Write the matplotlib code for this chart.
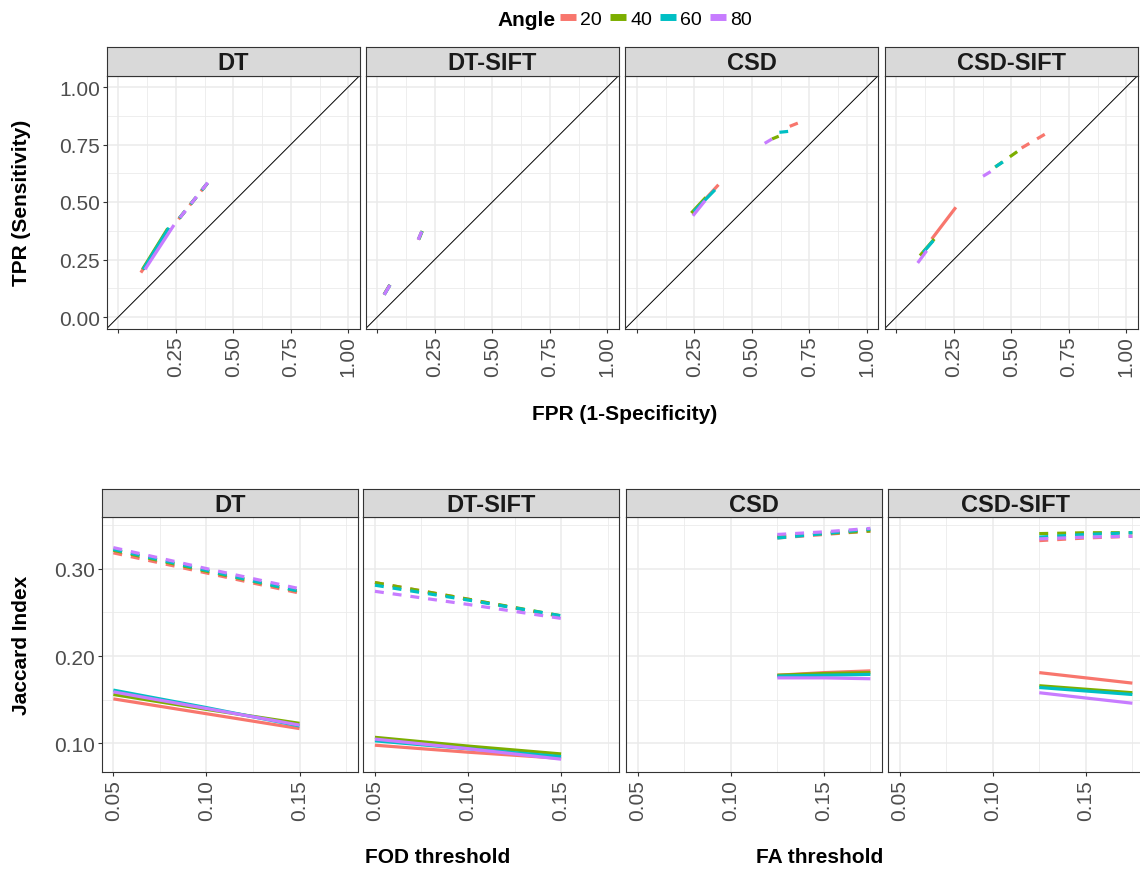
import numpy as np
import matplotlib.pyplot as plt
from matplotlib.lines import Line2D

plt.rcParams['font.family'] = ['Liberation Sans', 'DejaVu Sans']

angles = [20, 40, 60, 80]
colors = ['#F8766D', '#7CAE00', '#00BFC4', '#C77CFF']
methods = ['DT', 'DT-SIFT', 'CSD', 'CSD-SIFT']

# ---- ROC data (FPR, TPR), one row per angle ----
dt_solid_fpr = [[0.098, 0.200], [0.105, 0.215], [0.108, 0.220], [0.116, 0.242]]
dt_solid_tpr = [[0.193, 0.345], [0.207, 0.385], [0.207, 0.388], [0.207, 0.400]]
dt_dash_fpr = [[0.262, 0.390], [0.266, 0.400], [0.266, 0.398], [0.268, 0.400]]
dt_dash_tpr = [[0.425, 0.585], [0.430, 0.597], [0.430, 0.595], [0.432, 0.598]]

dts_solid_fpr = [[0.029, 0.054], [0.030, 0.055], [0.030, 0.055], [0.030, 0.055]]
dts_solid_tpr = [[0.097, 0.139], [0.098, 0.140], [0.097, 0.139], [0.097, 0.139]]
dts_dash_fpr = [[0.178, 0.195], [0.181, 0.197], [0.179, 0.196], [0.178, 0.195]]
dts_dash_tpr = [[0.336, 0.376], [0.338, 0.378], [0.337, 0.377], [0.336, 0.376]]

csd_solid_fpr = [[0.245, 0.355], [0.237, 0.300], [0.247, 0.340], [0.244, 0.297]]
csd_solid_tpr = [[0.455, 0.575], [0.452, 0.520], [0.458, 0.553], [0.440, 0.506]]
csd_dash_fpr = [[0.665, 0.700], [0.588, 0.617], [0.620, 0.658], [0.556, 0.588]]
csd_dash_tpr = [[0.829, 0.843], [0.774, 0.786], [0.803, 0.807], [0.755, 0.774]]

csds_solid_fpr = [[0.154, 0.259], [0.103, 0.165], [0.117, 0.161], [0.093, 0.132]]
csds_solid_tpr = [[0.339, 0.477], [0.267, 0.339], [0.281, 0.332], [0.235, 0.288]]
csds_dash_fpr = [[0.545, 0.650], [0.430, 0.527], [0.431, 0.468], [0.377, 0.410]]
csds_dash_tpr = [[0.735, 0.797], [0.652, 0.720], [0.653, 0.677], [0.612, 0.632]]

# ---- Jaccard data, one row per angle ----
fod_thr = [0.05, 0.10, 0.15]
fa_thr = [0.125, 0.150, 0.175]

dt_j_solid = [[0.151, 0.134, 0.117], [0.156, 0.139, 0.123], [0.161, 0.141, 0.120], [0.159, 0.140, 0.121]]
dt_j_dash = [[0.318, 0.295, 0.272], [0.321, 0.297, 0.274], [0.322, 0.298, 0.274], [0.324, 0.300, 0.277]]
dts_j_solid = [[0.098, 0.090, 0.083], [0.107, 0.097, 0.088], [0.103, 0.094, 0.085], [0.105, 0.094, 0.082]]
dts_j_dash = [[0.284, 0.265, 0.245], [0.284, 0.265, 0.246], [0.281, 0.264, 0.246], [0.274, 0.259, 0.243]]
csd_j_solid = [[0.178, 0.181, 0.183], [0.178, 0.180, 0.181], [0.177, 0.178, 0.179], [0.175, 0.175, 0.174]]
csd_j_dash = [[0.335, 0.339, 0.343], [0.337, 0.340, 0.343], [0.335, 0.340, 0.345], [0.339, 0.342, 0.346]]
csds_j_solid = [[0.181, 0.175, 0.169], [0.166, 0.162, 0.158], [0.164, 0.160, 0.156], [0.158, 0.152, 0.146]]
csds_j_dash = [[0.332, 0.335, 0.337], [0.340, 0.341, 0.341], [0.336, 0.339, 0.341], [0.334, 0.336, 0.337]]

roc = [(dt_solid_fpr, dt_solid_tpr, dt_dash_fpr, dt_dash_tpr),
       (dts_solid_fpr, dts_solid_tpr, dts_dash_fpr, dts_dash_tpr),
       (csd_solid_fpr, csd_solid_tpr, csd_dash_fpr, csd_dash_tpr),
       (csds_solid_fpr, csds_solid_tpr, csds_dash_fpr, csds_dash_tpr)]
jac = [(fod_thr, dt_j_solid, dt_j_dash), (fod_thr, dts_j_solid, dts_j_dash),
       (fa_thr, csd_j_solid, csd_j_dash), (fa_thr, csds_j_solid, csds_j_dash)]

W, H = 1140, 870
fig = plt.figure(figsize=(W / 100, H / 100), dpi=100)


def px_axes(l, t, w, h):
    return fig.add_axes([l / W, 1 - (t + h) / H, w / W, h / H])


def strip(l, t, w, h, label):
    s = px_axes(l, t, w, h)
    s.set_facecolor('#D9D9D9')
    s.set_xticks([])
    s.set_yticks([])
    for sp in s.spines.values():
        sp.set_color('#333333')
        sp.set_linewidth(0.8)
    s.text(0.5, 0.45, label, transform=s.transAxes, ha='center', va='center',
           fontsize=17, fontweight='bold', color='#1A1A1A')


def style(ax, first):
    ax.grid(which='major', color='#EBEBEB', lw=1.1)
    ax.grid(which='minor', color='#EBEBEB', lw=0.6)
    ax.set_axisbelow(True)
    for sp in ax.spines.values():
        sp.set_color('#333333')
        sp.set_linewidth(0.8)
    ax.tick_params(which='major', direction='out', length=3, width=0.8, color='#333333',
                   labelcolor='#4D4D4D', labelsize=15, pad=2)
    ax.tick_params(which='minor', length=0)
    ax.tick_params(axis='x', labelrotation=90)
    if not first:
        ax.tick_params(axis='y', length=0, labelleft=False)


LW = 2.3
DASH = (2.8, 2.8)

# ---- top row ----
top_left = [106.8, 365.8, 625.3, 884.8]
for i, m in enumerate(methods):
    ax = px_axes(top_left[i], 76.5, 253, 253)
    strip(top_left[i], 48, 253, 28.5, m)
    ax.axline((0, 0), slope=1, color='black', lw=0.7, zorder=2)
    sf, st, df, dtp = roc[i]
    for k in range(len(angles)):
        ax.plot(sf[k], st[k], color=colors[k], lw=LW, solid_capstyle='butt', zorder=3)
        ax.plot(df[k], dtp[k], color=colors[k], lw=LW, ls=(0, DASH), dash_capstyle='butt', zorder=3)
    ax.set_xlim(-0.05, 1.05)
    ax.set_ylim(-0.05, 1.05)
    ax.set_xticks([0, 0.25, 0.5, 0.75, 1.0])
    ax.set_xticklabels(['', '0.25', '0.50', '0.75', '1.00'])
    ax.set_xticks([0.125, 0.375, 0.625, 0.875], minor=True)
    ax.set_yticks([0, 0.25, 0.5, 0.75, 1.0])
    ax.set_yticklabels(['0.00', '0.25', '0.50', '0.75', '1.00'])
    ax.set_yticks([0.125, 0.375, 0.625, 0.875], minor=True)
    style(ax, i == 0)

# ---- bottom row ----
bot_left = [101.7, 363.3, 626, 888]
for i, m in enumerate(methods):
    ax = px_axes(bot_left[i], 518, 256, 255.3)
    strip(bot_left[i], 490, 256, 28, m)
    x, js, jd = jac[i]
    for k in range(len(angles)):
        ax.plot(x, js[k], color=colors[k], lw=LW, solid_capstyle='butt', zorder=3)
        ax.plot(x, jd[k], color=colors[k], lw=LW, ls=(0, DASH), dash_capstyle='butt', zorder=3)
    ax.set_xlim(0.04375, 0.18125)
    ax.set_ylim(0.067, 0.359)
    ax.set_xticks([0.05, 0.10, 0.15])
    ax.set_xticklabels(['0.05', '0.10', '0.15'])
    ax.set_xticks([0.075, 0.125, 0.175], minor=True)
    ax.set_yticks([0.10, 0.20, 0.30])
    ax.set_yticklabels(['0.10', '0.20', '0.30'])
    ax.set_yticks([0.15, 0.25, 0.35], minor=True)
    style(ax, i == 0)

# ---- titles ----
fig.text(625 / W, 1 - 414 / H, 'FPR (1-Specificity)', ha='center', va='center',
         fontsize=15, fontweight='bold')
fig.text(22 / W, 1 - 203 / H, 'TPR (Sensitivity)', ha='center', va='center',
         rotation=90, fontsize=15, fontweight='bold')
fig.text(22 / W, 1 - 645 / H, 'Jaccard Index', ha='center', va='center',
         rotation=90, fontsize=15, fontweight='bold')
fig.text(438 / W, 1 - 858 / H, 'FOD threshold', ha='center', va='center',
         fontsize=15, fontweight='bold')
fig.text(820 / W, 1 - 858 / H, 'FA threshold', ha='center', va='center',
         fontsize=15, fontweight='bold')

# ---- legend ----
fig.text(556 / W, 1 - 20 / H, 'Angle', ha='right', va='center', fontsize=15, fontweight='bold')
handles = [Line2D([], [], color=c, lw=5, solid_capstyle='butt') for c in colors]
fig.legend(handles, [str(a) for a in angles], ncol=4, loc='center left',
           bbox_to_anchor=(560 / W, 1 - 20 / H), frameon=False, fontsize=14,
           handlelength=0.8, handletextpad=0.25, columnspacing=0.4,
           borderpad=0, borderaxespad=0)

fig.savefig('out.png', dpi=100)
